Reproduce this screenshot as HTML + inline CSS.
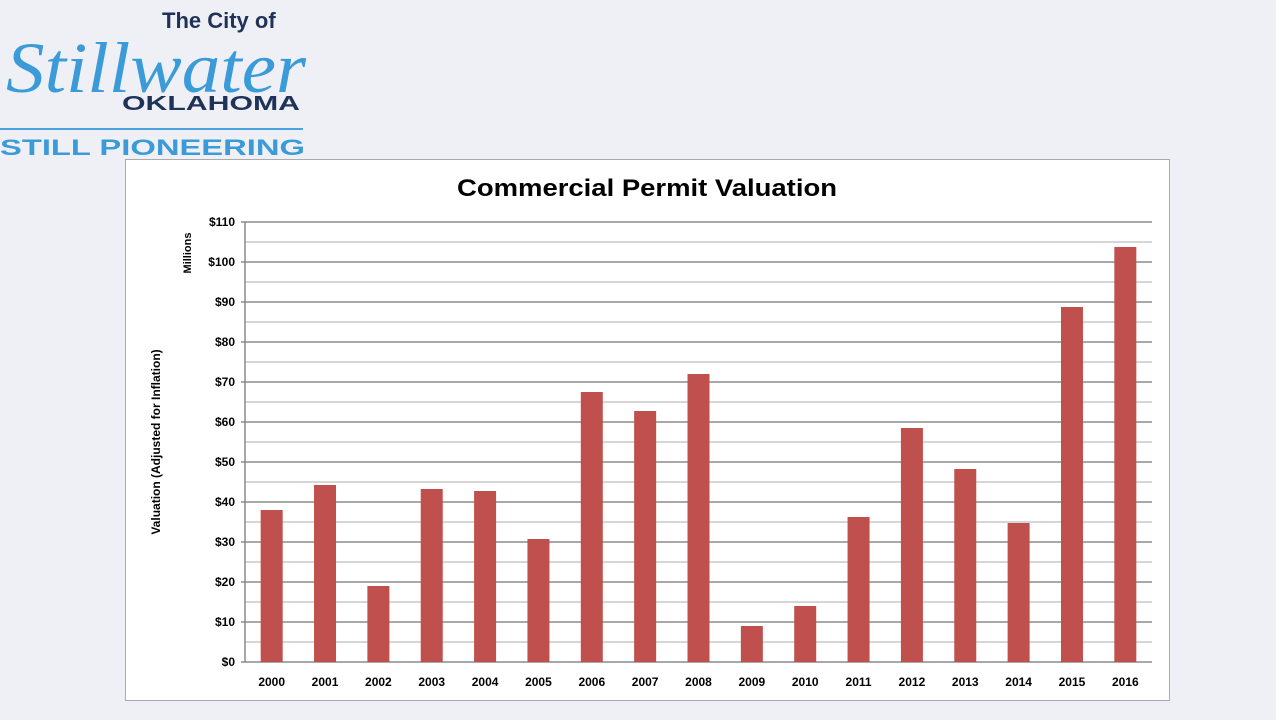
<!DOCTYPE html>
<html><head><meta charset="utf-8"><style>
body{margin:0;background:#eff0f6;width:1276px;height:715px;overflow:hidden;font-family:"Liberation Sans",sans-serif}
</style></head><body>
<svg width="1276" height="715">
<g>
<text x="162" y="28" font-size="22" font-weight="bold" fill="#1f3359">The City of</text>
<text x="6" y="92" font-size="72" font-style="italic" font-family="Liberation Serif,serif" fill="#3b9bd8" textLength="300" lengthAdjust="spacingAndGlyphs">Stillwater</text>
<text x="122" y="110" font-size="20" font-weight="bold" fill="#1f3359" textLength="178" lengthAdjust="spacingAndGlyphs">OKLAHOMA</text>
<rect x="0" y="128" width="303" height="2" fill="#4aa3dc"/>
<text x="0" y="155" font-size="22" font-weight="bold" fill="#3b9bd8" textLength="305" lengthAdjust="spacingAndGlyphs">STILL PIONEERING</text>
</g>
<rect x="125.5" y="159.5" width="1044" height="541" fill="#fff" stroke="#aaa"/>
<text x="647" y="196" font-size="24" font-weight="bold" text-anchor="middle" textLength="380" lengthAdjust="spacingAndGlyphs">Commercial Permit Valuation</text>
<text transform="translate(160,442) rotate(-90)" font-size="12" font-weight="bold" text-anchor="middle">Valuation (Adjusted for Inflation)</text>
<text transform="translate(191,253) rotate(-90)" font-size="11" font-weight="bold" text-anchor="middle">Millions</text>
<g id="plot"></g>
</svg>
<script>
const years=["2000","2001","2002","2003","2004","2005","2006","2007","2008","2009","2010","2011","2012","2013","2014","2015","2016"];
const values=[38,44.25,19,43.25,42.75,30.75,67.5,62.75,72,9,14,36.25,58.5,48.25,34.75,88.75,103.75];
const ticks=[0,10,20,30,40,50,60,70,80,90,100,110];
const tickLabels=["$0","$10","$20","$30","$40","$50","$60","$70","$80","$90","$100","$110"];
const NS="http://www.w3.org/2000/svg",g=document.getElementById('plot');
const x0=245,x1=1152,yb=662,yt=222,ymax=110;
const y=v=>yb-(v/ymax)*(yb-yt);
const step=(x1-x0)/years.length;
const xc=i=>x0+step*(i+0.5);
function mk(t,a){const e=document.createElementNS(NS,t);for(const k in a)e.setAttribute(k,a[k]);g.appendChild(e);return e;}
for(let v=5;v<=ymax;v+=10){const l=mk('line',{x1:x0,x2:x1,y1:y(v),y2:y(v),stroke:'#c8c8c8','stroke-width':1.5});

}
ticks.forEach((v,i)=>{const l=mk('line',{x1:x0-4,x2:x1,y1:y(v),y2:y(v),stroke:'#8c8c8c','stroke-width':1.5});


const t=mk('text',{x:x0-10,y:y(v)+4,'font-size':12,'font-weight':'bold','text-anchor':'end'});t.textContent=tickLabels[i];

});
const ax=mk('line',{x1:x0,x2:x0,y1:yt,y2:yb,stroke:'#8c8c8c','stroke-width':1.5});


years.forEach((yr,i)=>{const b=mk('rect',{x:xc(i)-11,y:y(values[i]),width:22,height:yb-y(values[i]),fill:'#c0504d'});


const t=mk('text',{x:xc(i),y:686,'font-size':12,'font-weight':'bold','text-anchor':'middle'});t.textContent=yr;

});
</script>
</body></html>
